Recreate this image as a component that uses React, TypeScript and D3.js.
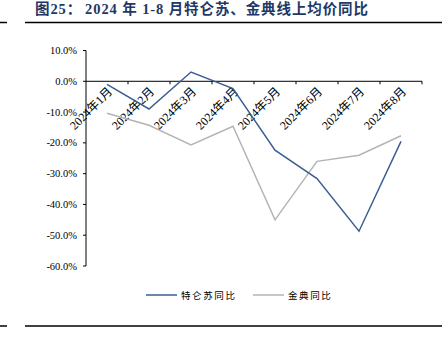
import React from "react";
import * as d3 from "d3";

const categories = ["2024年1月", "2024年2月", "2024年3月", "2024年4月", "2024年5月", "2024年6月", "2024年7月", "2024年8月"];
const telunsu = [-1.0, -9.0, 3.0, -2.4, -22.4, -31.6, -48.7, -19.5];
const jindian = [-10.4, -14.3, -20.7, -14.6, -45.0, -26.0, -24.0, -17.7];
const yTicks = [10, 0, -10, -20, -30, -40, -50, -60];
const seriesNames = ["特仑苏同比", "金典同比"];
const titleHead = "图25：";
const titleBody = "2024 年 1-8 月特仑苏、金典线上均价同比";

const W = 442;
const H = 358;
const serif = "'Liberation Serif', 'Times New Roman', 'Noto Sans CJK SC', serif";

export default function App() {
  const x = d3.scaleBand<string>().domain(categories).range([86, 422]);
  const y = d3.scaleLinear().domain([-60, 10]).range([266, 50.5]);
  const line = d3
    .line<number>()
    .x((_, i) => (x(categories[i]) as number) + x.bandwidth() / 2)
    .y((d) => y(d));
  const y0 = y(0);
  const colors = ["#3A5F93", "#B4B4B4"];

  return (
    <svg width={W} height={H} style={{ position: "absolute", left: 0, top: 0, background: "#fff" }}>
      <text x={35} y={14} fontFamily={serif} fontWeight="bold" fontSize={14.5} fill="#1F3864" letterSpacing={0.9}>
        <tspan>{titleHead}</tspan>
        <tspan dx={3}>{titleBody}</tspan>
      </text>
      <line x1={0} x2={7} y1={22.5} y2={22.5} stroke="#000" strokeWidth={1.5} />
      <line x1={25} x2={442} y1={22.5} y2={22.5} stroke="#000" strokeWidth={1.5} />
      <line x1={0} x2={7} y1={326} y2={326} stroke="#000" strokeWidth={1.5} />
      <line x1={25} x2={442} y1={326} y2={326} stroke="#000" strokeWidth={1.5} />

      {/* y axis */}
      <line x1={86} x2={86} y1={y(10)} y2={y(-60)} stroke="#000" strokeWidth={1} />
      {yTicks.map((t) => (
        <g key={t}>
          <line x1={83} x2={86} y1={y(t)} y2={y(t)} stroke="#000" />
          <text x={77} y={y(t) + 3.5} textAnchor="end" fontFamily={serif} fontSize={10.5} fill="#000">
            {t.toFixed(1) + "%"}
          </text>
        </g>
      ))}

      {/* x axis */}
      <line x1={86} x2={422} y1={y0} y2={y0} stroke="#000" strokeWidth={1} />
      {categories.map((c) => (
        <line key={c} x1={(x(c) as number) + x.bandwidth()} x2={(x(c) as number) + x.bandwidth()} y1={y0} y2={y0 + 3} stroke="#000" />
      ))}
      {categories.map((c) => {
        const cx = (x(c) as number) + x.bandwidth() / 2 + 3;
        const cy = y0 + 8;
        return (
          <text key={c} transform={`translate(${cx},${cy}) rotate(-45)`} textAnchor="end" fontFamily={serif} fontSize={12} fill="#000" dy="0.35em">
            {c}
          </text>
        );
      })}

      <path d={line(jindian) as string} fill="none" stroke={colors[1]} strokeWidth={1.5} />
      <path d={line(telunsu) as string} fill="none" stroke={colors[0]} strokeWidth={1.5} />

      {/* legend */}
      <line x1={146} x2={177} y1={295} y2={295} stroke={colors[0]} strokeWidth={1.5} />
      <text x={181} y={298.5} fontFamily={serif} fontSize={9.5} letterSpacing={1.6} fill="#000">
        {seriesNames[0]}
      </text>
      <line x1={253} x2={284} y1={295} y2={295} stroke={colors[1]} strokeWidth={1.5} />
      <text x={288} y={298.5} fontFamily={serif} fontSize={9.5} letterSpacing={1.6} fill="#000">
        {seriesNames[1]}
      </text>
    </svg>
  );
}
